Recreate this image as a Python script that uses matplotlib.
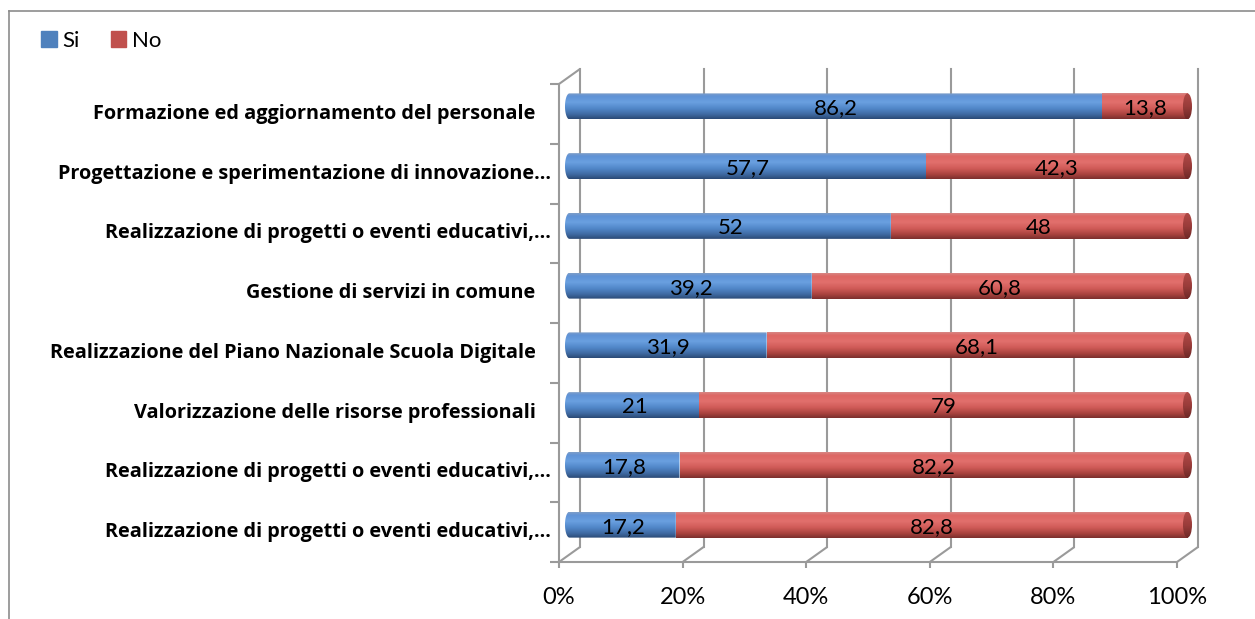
import numpy as np
import matplotlib
matplotlib.use('Agg')
import matplotlib.pyplot as plt
from matplotlib.colors import LinearSegmentedColormap
from matplotlib.patches import PathPatch, Ellipse, Patch
from matplotlib.path import Path
from matplotlib.transforms import offset_copy, IdentityTransform
from matplotlib.lines import Line2D

plt.rcParams['font.family'] = ['Lato', 'DejaVu Sans']

# dati (dall'alto verso il basso)
categorie = [
    'Formazione ed aggiornamento del personale   ',
    'Progettazione e sperimentazione di innovazione\u2026',
    'Realizzazione di progetti o eventi educativi,\u2026',
    'Gestione di servizi in comune   ',
    'Realizzazione del Piano Nazionale Scuola Digitale   ',
    'Valorizzazione delle risorse professionali   ',
    'Realizzazione di progetti o eventi educativi,\u2026',
    'Realizzazione di progetti o eventi educativi,\u2026',
]
si = [86.2, 57.7, 52, 39.2, 31.9, 21, 17.8, 17.2]
no = [13.8, 42.3, 48, 60.8, 68.1, 79, 82.2, 82.8]
serie = ['Si', 'No']
xticks = [0, 20, 40, 60, 80, 100]
xtick_labels = ['0%', '20%', '40%', '60%', '80%', '100%']

W, H = 1255, 619
PU = 6.18     # pixel per punto percentuale
MARG = 2.0    # margine orizzontale (in %) per le basi dei cilindri
fig = plt.figure(figsize=(W / 100, H / 100), dpi=100)
ax = fig.add_axes([(569.5 - MARG * PU) / W, 64.5 / H, (100 + 2 * MARG) * PU / W, 478 / H])
ax.axis('off')
n = len(categorie)

DX, DY = 10.5, 7.5      # meta' profondita' della scatola 3D (pixel)
BH = 0.435              # spessore barra
RX = 0.73               # semiasse orizzontale delle basi del cilindro
GRIGIO = '#9a9a9a'

front = offset_copy(ax.transData, fig=fig, x=-DX, y=-DY, units='dots')
back = offset_copy(ax.transData, fig=fig, x=DX, y=DY, units='dots')


def limiti():
    ax.set_xlim(-MARG, 100 + MARG)
    ax.set_ylim(n - 0.5, -0.5)


limiti()


def pix(x, y, d):
    px, py = ax.transData.transform((x, y))
    return px + d * DX, py + d * DY


def seg(p, q):
    ax.add_line(Line2D([p[0], q[0]], [p[1], q[1]], transform=IdentityTransform(),
                       color=GRIGIO, lw=1.5, solid_capstyle='butt', clip_on=False))


y0, y1 = -0.5, n - 0.5
# parete di fondo
for x in xticks:
    ax.plot([x, x], [y1, y0], transform=back, color=GRIGIO, lw=1.5, zorder=1, clip_on=False)
    seg(pix(x, y1, -1), pix(x, y1, 1))
    p = pix(x, y1, -1)
    seg(p, (p[0], p[1] - 6))
# pavimento e parete sinistra
ax.plot([0, 100], [y1, y1], transform=front, color=GRIGIO, lw=1.5, clip_on=False)
ax.plot([0, 0], [y0, y1], transform=front, color=GRIGIO, lw=1.5, clip_on=False)
seg(pix(0, y0, -1), pix(0, y0, 1))
for k in range(n + 1):
    p = pix(0, y0 + k, -1)
    seg(p, (p[0] - 9, p[1]))

blu = LinearSegmentedColormap.from_list(
    'blu', [(0, '#7e9ec8'), (0.12, '#5f92d6'), (0.35, '#6aa0e0'), (0.6, '#5086c8'),
            (0.82, '#3f6aa2'), (1, '#2b4a76')])
rosso = LinearSegmentedColormap.from_list(
    'rosso', [(0, '#d88784'), (0.12, '#dd6764'), (0.35, '#e2706d'), (0.6, '#cf5a57'),
              (0.82, '#a9433f'), (1, '#7c2f2d')])
base = LinearSegmentedColormap.from_list('base', ['#b04a47', '#9a3c3a', '#6e2826'])
grad = np.linspace(0, 1, 120).reshape(-1, 1)


def cilindro(x0, x1, yc, cmap, tappo_sx):
    top, bot = yc - BH / 2, yc + BH / 2
    if tappo_sx:
        t = np.linspace(0, np.pi, 40)
        verts = list(zip(x0 - RX * np.sin(t), yc - BH / 2 * np.cos(t)))
    else:
        verts = [(x0, top), (x0, bot)]
    verts += [(x1, bot), (x1, top), verts[0]]
    clip = PathPatch(Path(verts), transform=ax.transData)
    im = ax.imshow(grad, cmap=cmap, extent=(x0 - RX, x1, bot, top), aspect='auto',
                   interpolation='bilinear', zorder=3)
    im.set_clip_path(clip)


testo_val = offset_copy(ax.transData, fig=fig, y=-8, units='dots')
for i in range(n):
    tot = si[i] + no[i]
    cilindro(0, si[i], i, blu, True)
    cilindro(si[i], tot, i, rosso, False)
    # base destra del cilindro
    e = Ellipse((tot, i), 2 * RX, BH, transform=ax.transData)
    im = ax.imshow(grad, cmap=base, extent=(tot - RX, tot + RX, i + BH / 2, i - BH / 2),
                   aspect='auto', interpolation='bilinear', zorder=4)
    im.set_clip_path(e)
    for x0, v in ((0, si[i]), (si[i], no[i])):
        ax.text(x0 + v / 2, i, f'{v:g}'.replace('.', ','), transform=testo_val,
                ha='center', va='baseline', fontsize=16, zorder=5)

limiti()

# etichette categorie e asse x
cat_tr = offset_copy(ax.transData, fig=fig, x=-DX - 8, y=-DY - 5, units='dots')
for i, c in enumerate(categorie):
    ax.text(0, i, c, transform=cat_tr, ha='right', va='baseline', family='Open Sans',
            fontsize=14.3, fontweight='bold', clip_on=False)
tick_tr = offset_copy(ax.transData, fig=fig, x=-DX, y=-DY - 42, units='dots')
for x, lab in zip(xticks, xtick_labels):
    ax.text(x, y1, lab, transform=tick_tr, ha='center', va='baseline', fontsize=17)

# cornice dell'area grafico
fig.add_artist(Line2D([9 / W, 9 / W], [0, 1 - 11 / H], transform=fig.transFigure, color='#8c8c8c', lw=1.2))
fig.add_artist(Line2D([9 / W, 1], [1 - 11 / H, 1 - 11 / H], transform=fig.transFigure, color='#8c8c8c', lw=1.2))

fig.legend(handles=[Patch(color='#4f81bd'), Patch(color='#c0504d')], labels=serie,
           loc='upper left', bbox_to_anchor=(41 / W, 1 - 31 / H), ncol=2, frameon=False,
           fontsize=16, handlelength=0.7, handleheight=0.7, handletextpad=0.25,
           columnspacing=1.4, borderpad=0, borderaxespad=0)

fig.savefig('out.png', dpi=100)
